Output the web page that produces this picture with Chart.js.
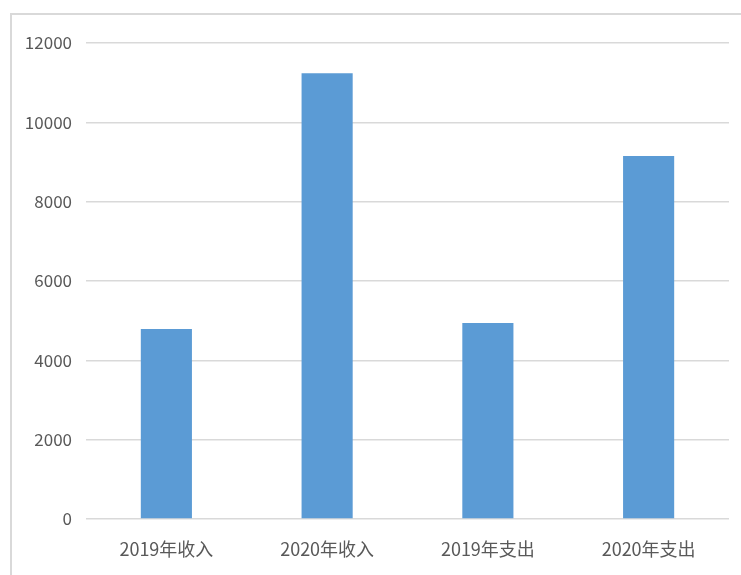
<!DOCTYPE html>
<html>
<head>
<meta charset="utf-8">
<script src="https://cdn.jsdelivr.net/npm/chart.js@4"></script>
<style>
  html, body { margin: 0; padding: 0; background: #fff; overflow: hidden; }
  #wrap { position: relative; width: 741px; height: 575px; }
  #frame {
    position: absolute; left: 10px; top: 13px; width: 760px; height: 600px;
    border: 2px solid #d9d9d9; box-sizing: border-box;
  }
  canvas { position: absolute; left: 0; top: 0; }
</style>
</head>
<body>
<div id="wrap">
  <div id="frame"></div>
  <canvas id="c" width="741" height="575"></canvas>
</div>
<script>
// categories and values
const categories = ['2019年收入', '2020年收入', '2019年支出', '2020年支出']
const amounts = [4790, 11240, 4940, 9150]
const yTicks = [0, 2000, 4000, 6000, 8000, 10000, 12000]

const font = '"Noto Sans CJK SC", "Liberation Sans", sans-serif'

new Chart(document.getElementById('c'), {
  type: 'bar',
  data: {
    labels: categories,
    datasets: [{
      data: amounts,
      backgroundColor: '#5b9bd5',
      borderWidth: 0,
      categoryPercentage: 1,
      barPercentage: 0.318
    }]
  },
  options: {
    responsive: false,
    animation: false,
    layout: { padding: { top: 43, left: 0, right: 12, bottom: 0 } },
    plugins: { legend: { display: false }, tooltip: { enabled: false } },
    scales: {
      x: {
        grid: { display: false, drawTicks: false },
        border: { display: false },
        ticks: { color: '#595959', font: { family: font, size: 18 }, padding: 19 },
        afterFit: (s) => { s.height = 56 }
      },
      y: {
        min: 0,
        max: 12000,
        afterBuildTicks: (s) => { s.ticks = yTicks.map(v => ({ value: v })) },
        grid: { color: '#d9d9d9', lineWidth: 1.5, drawTicks: false },
        border: { display: false },
        ticks: {
          color: '#595959',
          font: { family: font, size: 17 },
          padding: 14,
          callback: (v) => String(v) // no thousands separator
        },
        afterFit: (s) => { s.width = 86 }
      }
    }
  }
})
</script>
</body>
</html>
